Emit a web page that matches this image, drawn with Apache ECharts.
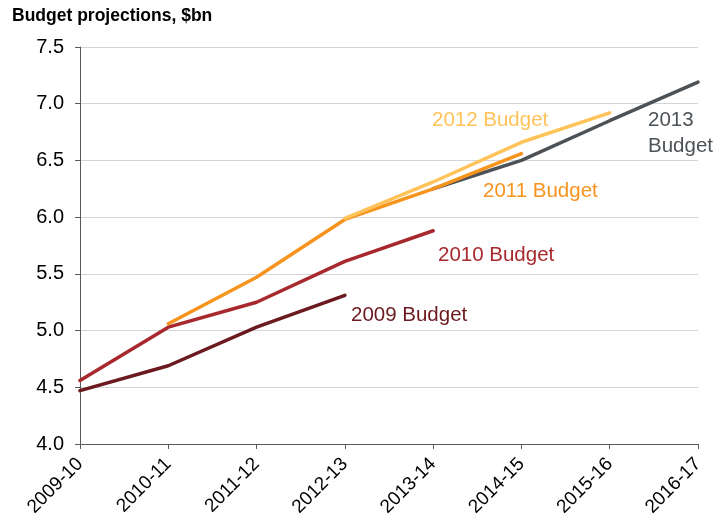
<!DOCTYPE html>
<html>
<head>
<meta charset="utf-8">
<script src="https://cdn.jsdelivr.net/npm/echarts@6/dist/echarts.min.js"></script>
<style>
  html, body { margin: 0; padding: 0; background: #fff; }
  #chart { width: 717px; height: 528px; }
</style>
</head>
<body>
<div id="chart"></div>
<script>
// financial years on the x axis
var years = ["2009-10", "2010-11", "2011-12", "2012-13", "2013-14", "2014-15", "2015-16", "2016-17"];

// projections per budget ($bn), null where that budget has no figure
var budget2009 = [4.47, 4.69, 5.03, 5.31, null, null, null, null];
var budget2010 = [4.56, 5.03, 5.25, 5.61, 5.88, null, null, null];
var budget2011 = [null, 5.06, 5.47, 5.98, 6.25, 6.56, null, null];
var budget2012 = [null, null, null, 5.99, 6.31, 6.66, 6.92, null];
var budget2013 = [null, null, null, null, 6.25, 6.50, 6.85, 7.19];

var chartDom = document.getElementById("chart");
var myChart = echarts.init(chartDom);
var font = "Liberation Sans, Arial, sans-serif";

function line(name, data, color) {
  return {
    name: name,
    type: "line",
    data: data,
    symbol: "none",
    connectNulls: false,
    lineStyle: { color: color, width: 3.5, cap: "round" },
    itemStyle: { color: color },
  };
}

// text labels next to the lines
function label(text, left, top, color) {
  return {
    type: "text",
    left: left,
    top: top,
    style: { text: text, fill: color, font: "20.5px " + font, lineHeight: 26 },
  };
}

var option = {
  animation: false,
  grid: { left: 80, right: 19, top: 47, bottom: 84 },
  xAxis: {
    type: "category",
    data: years,
    boundaryGap: false,
    axisLine: { lineStyle: { color: "#595959", width: 1 } },
    axisTick: { show: true, length: 5, alignWithLabel: true, lineStyle: { color: "#595959" } },
    axisLabel: {
      rotate: 45,
      color: "#000",
      fontSize: 19,
      fontFamily: font,
      margin: 17,
      interval: 0,
    },
    splitLine: { show: false },
  },
  yAxis: {
    type: "value",
    min: 4.0,
    max: 7.5,
    interval: 0.5,
    axisLine: { show: true, lineStyle: { color: "#595959", width: 1 } },
    axisTick: { show: true, length: 5, lineStyle: { color: "#595959" } },
    axisLabel: {
      color: "#000",
      fontSize: 20,
      fontFamily: font,
      margin: 16,
      formatter: function (v) { return v.toFixed(1); },
    },
    splitLine: { show: true, lineStyle: { color: "#d4d4d4", width: 1 } },
  },
  graphic: [
    {
      type: "text",
      left: 12,
      top: 7,
      style: { text: "Budget projections, $bn", fill: "#000", font: "bold 17.5px " + font },
    },
    label("2012 Budget", 432, 107, "#FFC35A"),
    label("2013\nBudget", 648, 107, "#4D5257"),
    label("2011 Budget", 483, 178, "#F7941D"),
    label("2010 Budget", 438, 242, "#A7292E"),
    label("2009 Budget", 351, 302, "#6B1A1F"),
  ],
  series: [
    line("2009 Budget", budget2009, "#6B1A1F"),
    line("2010 Budget", budget2010, "#A7292E"),
    line("2013 Budget", budget2013, "#4D5257"),
    line("2011 Budget", budget2011, "#F7941D"),
    line("2012 Budget", budget2012, "#FFC35A"),
  ],
};

option && myChart.setOption(option);
</script>
</body>
</html>
